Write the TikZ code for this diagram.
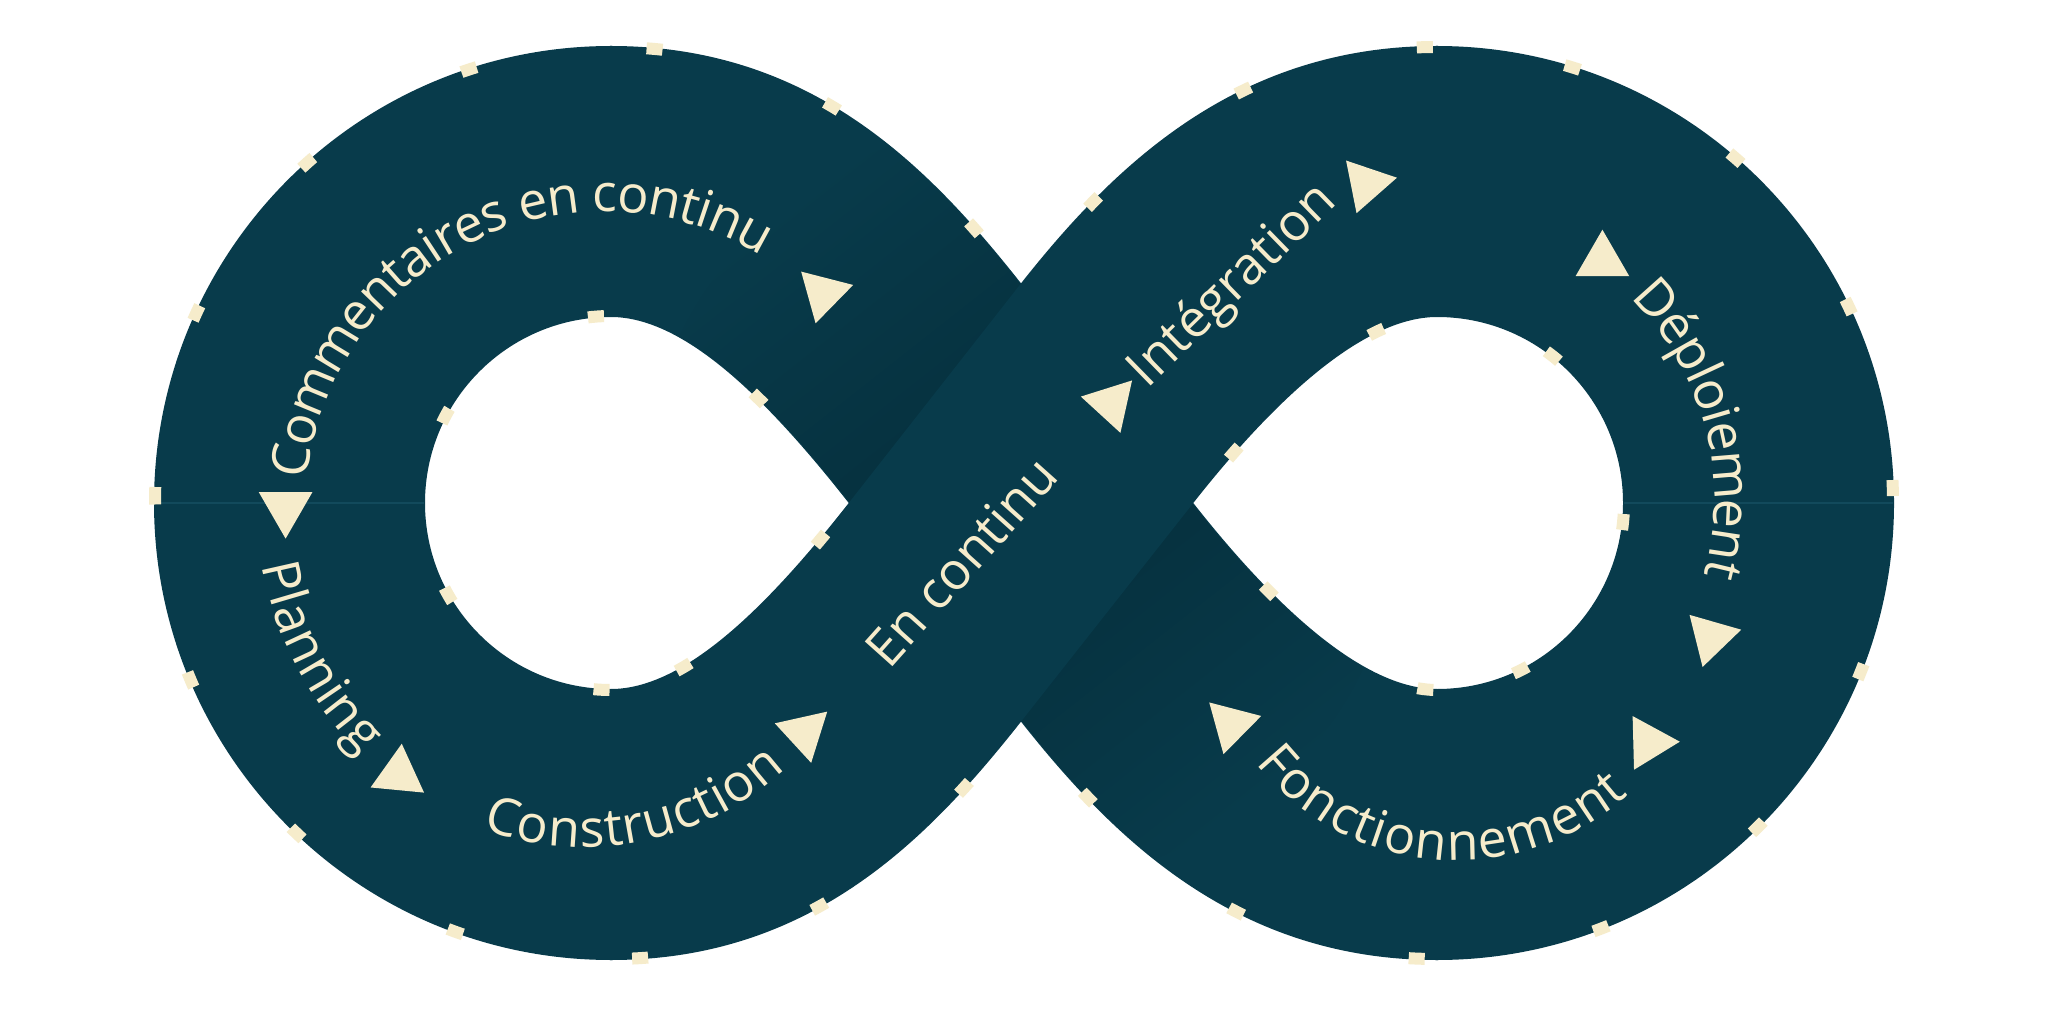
\documentclass[tikz,border=0pt]{standalone}
\usepackage{fontspec}
\setmainfont{Open Sans}
\usetikzlibrary{decorations.text}

\definecolor{navy}{HTML}{083B4B}
\definecolor{navydeep}{HTML}{052E3B}
\definecolor{cream}{HTML}{F6ECCB}
\definecolor{seamblue}{HTML}{124A5C}

\newcommand\stagefont{\fontsize{26pt}{31pt}\selectfont}

\tikzset{
  band/.style={fill=navy, draw=navy, line width=1pt},
  ticks/.style={draw=cream, line width=6pt, dash pattern=on 8pt off 86pt},
  seamline/.style={draw=seamblue, line width=0.6pt},
  stage/.style={text=cream, font=\stagefont, inner sep=0pt, anchor=base},
  arctext/.style={decorate, decoration={text along path, text={|\stagefont|#1},
      text align=center, text color=cream, raise=-6.75pt}}
}

\begin{document}
\begin{tikzpicture}[x=0.5pt, y=0.5pt]
 \useasboundingbox[fill=white] (0,0) rectangle (2048,1024);

 % centres of the loops and the crossing
 \coordinate (lc)  at (611,521);
 \coordinate (rc)  at (1437,521);
 \coordinate (top) at (1021,739);
 \coordinate (bot) at (1021,304);
 \coordinate (lv)  at (850,521);
 \coordinate (rv)  at (1192,521);

 % left and right rings
 \path[band] (611,977) arc[start angle=90, end angle=270, radius=456]
       -- (611,334) arc[start angle=270, end angle=90, radius=187] -- cycle;
 \path[band] (1437,977) arc[start angle=90, end angle=-90, radius=456]
       -- (1437,334) arc[start angle=-90, end angle=90, radius=187] -- cycle;

 % band going under
 \path[band] (611,977) .. controls (811,977) and (928,857) .. (top) -- (rv)
       .. controls (1272,419) and (1362,334) .. (1437,334) -- (1437,65)
       .. controls (1237,65) and (1114,186) .. (bot) -- (lv)
       .. controls (770,623) and (686,708) .. (611,708) -- cycle;

 % shadow of the crossing
 \begin{scope}
  \clip (611,977) .. controls (811,977) and (928,857) .. (top) -- (rv)
       .. controls (1272,419) and (1362,334) .. (1437,334) -- (1437,65)
       .. controls (1237,65) and (1114,186) .. (bot) -- (lv)
       .. controls (770,623) and (686,708) .. (611,708) -- cycle;
  \shade[top color=navy, bottom color=navy, middle color=navydeep,
         shading angle=38.2] (1021,521) circle[radius=380];
 \end{scope}

 % band going over
 \path[band] (611,334) .. controls (686,334) and (770,419) .. (lv) -- (top)
       .. controls (1114,857) and (1237,977) .. (1437,977) -- (1437,708)
       .. controls (1362,708) and (1272,623) .. (rv) -- (bot)
       .. controls (928,186) and (811,65) .. (611,65) -- cycle;

 % seams
 \draw[seamline] (155,521) -- (424,521);
 \draw[seamline] (1624,521) -- (1893,521);

 % dashes along the edges
 \draw[ticks] (155,521) arc[start angle=180, end angle=90, radius=456]
       .. controls (811,977) and (928,857) .. (top);
 \draw[ticks, dash phase=52.65pt] (424,521) arc[start angle=180, end angle=90, radius=187]
       .. controls (686,708) and (770,623) .. (lv);
 \draw[ticks, dash phase=7.25pt] (155,521) arc[start angle=180, end angle=270, radius=456]
       .. controls (811,65) and (928,186) .. (bot);
 \draw[ticks, dash phase=49.85pt] (424,521) arc[start angle=180, end angle=270, radius=187];
 \draw[ticks, dash phase=59.5pt] (611,334) .. controls (686,334) and (770,419) .. (lv);
 \draw[ticks, dash phase=65.25pt] (rv) .. controls (1272,623) and (1362,708) .. (1437,708)
       arc[start angle=90, end angle=-90, radius=187];
 \draw[ticks, dash phase=39.5pt] (rv) .. controls (1272,419) and (1362,334) .. (1437,334);
 \draw[ticks, dash phase=11.65pt] (1893,521) arc[start angle=0, end angle=-90, radius=456]
       .. controls (1237,65) and (1114,186) .. (bot);
 \draw[ticks, dash phase=43pt] (top) .. controls (1114,857) and (1237,977) .. (1437,977);
 \draw[ticks, dash phase=29.3pt] (1437,977) arc[start angle=90, end angle=0, radius=456];

 % arrow heads along the loop
 \foreach \x/\y/\a in {823.3/730.7/135.6, 285.6/516.4/270, 398.8/249.4/324.5,
         804.4/291.4/42.6, 1111.1/620.7/47.5, 1366.5/840.2/11.3, 1602.4/763.3/-30,
         1711.1/386.8/254, 1648.8/281.5/241.5, 1231.3/299.8/135.4}
   \fill[cream] ([shift={(\a:31)}]\x,\y) -- ++(\a+150:53.7) -- ++(\a+270:53.7) -- cycle;

 % labels
 \path[arctext={Commentaires en continu}]
   ([shift={(186.25:313)}]605,513) arc[start angle=186.25, end angle=46.25, radius=313];
 \path[arctext={Planning}]
   ([shift={(167.75:341)}]lc) arc[start angle=167.75, end angle=247.75, radius=341];
 \path[arctext={Construction}]
   ([shift={(241.35:283)}]584,473) arc[start angle=241.35, end angle=321.35, radius=283];
 \path[arctext={Déploiement}]
   ([shift={(85.08:296)}]1432,524) arc[start angle=85.08, end angle=-54.92, radius=296];
 \path[arctext={Fonctionnement}]
   ([shift={(195.1:243)}]1457,420) arc[start angle=195.1, end angle=335.1, radius=243];
 \node[stage, rotate=48.2] (encontinu) at (975,450) {En continu};
 \node[stage, rotate=44.3] (integration) at (1243,728) {Intégration};
\end{tikzpicture}
\end{document}
